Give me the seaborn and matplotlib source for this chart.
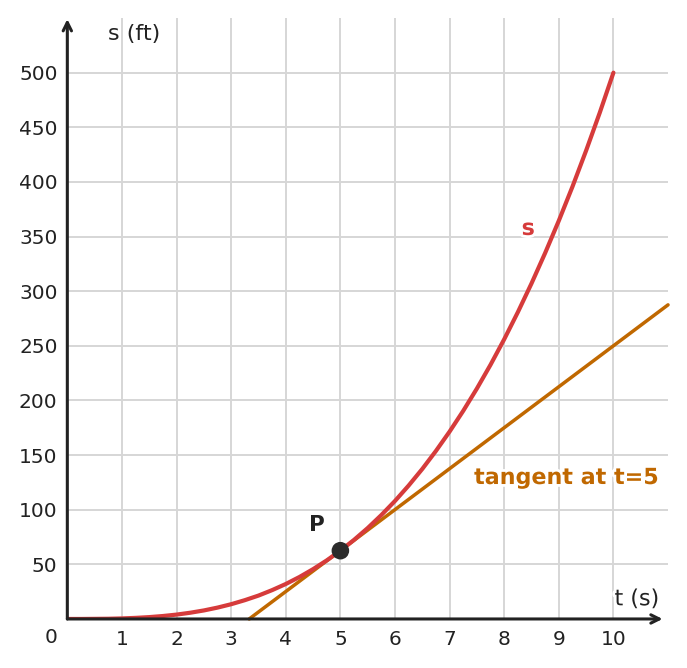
import matplotlib
matplotlib.use("Agg")
import matplotlib.pyplot as plt
import matplotlib.patheffects as pe
import seaborn as sns
import pandas as pd

# values
t_vals = [0, 0.25, 0.5, 0.75, 1, 1.25, 1.5, 1.75, 2, 2.25, 2.5, 2.75, 3, 3.25, 3.5, 3.75,
          4, 4.25, 4.5, 4.75, 5, 5.25, 5.5, 5.75, 6, 6.25, 6.5, 6.75, 7, 7.25, 7.5, 7.75,
          8, 8.25, 8.5, 8.75, 9, 9.25, 9.5, 9.75, 10]
s_vals = [0, 0.0, 0.1, 0.2, 0.5, 1.0, 1.7, 2.7, 4.0, 5.7, 7.8, 10.4, 13.5, 17.2, 21.4, 26.4,
          32.0, 38.4, 45.6, 53.6, 62.5, 72.4, 83.2, 95.1, 108.0, 122.1, 137.3, 153.8, 171.5,
          190.5, 210.9, 232.7, 256.0, 280.8, 307.1, 335.0, 364.5, 395.7, 428.7, 463.4, 500.0]
tangent_t = [3.33, 11.0]
tangent_s = [0, 287.5]
point_t = [5]
point_s = [62.5]
x_ticks = [1, 2, 3, 4, 5, 6, 7, 8, 9, 10]
y_ticks = [50, 100, 150, 200, 250, 300, 350, 400, 450, 500]

RED = "#d63b3b"
ORANGE = "#c06800"
DARK = "#222222"

sns.set_style("white")
plt.rcParams["font.family"] = ["DejaVu Sans"]

fig = plt.figure(figsize=(6.87, 6.68), dpi=100)
ax = fig.add_axes([0.098, 0.0734, 0.9724 - 0.098, 0.973 - 0.0734])

curve = pd.DataFrame({"t": t_vals, "s": s_vals})
tan = pd.DataFrame({"t": tangent_t, "s": tangent_s})
pt = pd.DataFrame({"t": point_t, "s": point_s})

ax.set_xlim(0, 11)
ax.set_ylim(0, 550)
ax.set_xticks(x_ticks)
ax.set_yticks(y_ticks)
ax.grid(True, color="#d6d6d6", linewidth=1.4, zorder=0)
ax.set_axisbelow(True)
for sp in ax.spines.values():
    sp.set_visible(False)

sns.lineplot(data=tan, x="t", y="s", ax=ax, color=ORANGE, linewidth=2.5, zorder=3, clip_on=False)
sns.lineplot(data=curve, x="t", y="s", ax=ax, color=RED, linewidth=3.0, zorder=4)
sns.scatterplot(data=pt, x="t", y="s", ax=ax, color="#2b2b2b", s=160, edgecolor="none", zorder=6)

ax.set_xlabel("")
ax.set_ylabel("")
ax.tick_params(axis="both", direction="in", length=4, width=2, color=DARK,
               labelsize=14.5, labelcolor=DARK)
ax.tick_params(axis="x", pad=8)
ax.tick_params(axis="y", pad=7)

# axis arrows
ax.annotate("", xy=(10.9, 0), xytext=(0, 0), xycoords="data",
            arrowprops=dict(arrowstyle="->,head_length=0.6,head_width=0.3", color=DARK, lw=2.2,
                            shrinkA=0, shrinkB=0), annotation_clip=False, zorder=5)
ax.annotate("", xy=(0, 549), xytext=(0, 0), xycoords="data",
            arrowprops=dict(arrowstyle="->,head_length=0.6,head_width=0.3", color=DARK, lw=2.2,
                            shrinkA=0, shrinkB=0), annotation_clip=False, zorder=5)

white = [pe.withStroke(linewidth=4, foreground="white")]
ax.text(-0.3, -17, "0", ha="center", va="center", fontsize=14.5, color=DARK, clip_on=False)
ax.text(1.22, 535, "s (ft)", ha="center", va="center", fontsize=16, color=DARK)
ax.text(10.43, 18, "t (s)", ha="center", va="center", fontsize=16, color=DARK,
        path_effects=white, zorder=7)
ax.text(4.57, 86, "P", ha="center", va="center", fontsize=15.5, fontweight="bold", color=DARK)
ax.text(8.44, 357, "s", ha="center", va="center", fontsize=16, fontweight="bold", color=RED,
        path_effects=white, zorder=7)
ax.text(9.14, 129, "tangent at t=5", ha="center", va="center", fontsize=16,
        fontweight="bold", color=ORANGE, path_effects=white, zorder=7)

fig.savefig("out.png", dpi=100)
